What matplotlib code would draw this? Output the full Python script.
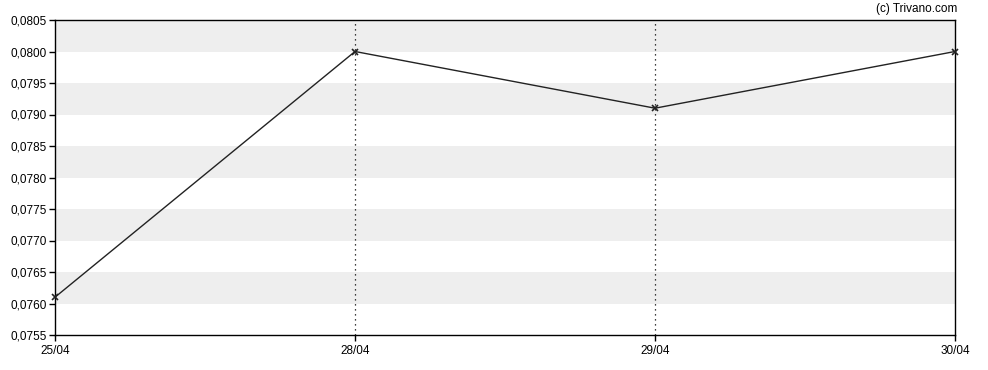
import matplotlib
matplotlib.use("Agg")
import matplotlib.pyplot as plt
from matplotlib.ticker import FuncFormatter

# values
dates  = ["25/04", "28/04", "29/04", "30/04"]
prices = [0.0761, 0.0800, 0.0791, 0.0800]

y_min, y_max, y_step = 0.0755, 0.0805, 0.0005

plt.rcParams["font.family"] = ["Liberation Sans", "DejaVu Sans"]

fig = plt.figure(figsize=(9.88, 3.70), dpi=100)
ax = fig.add_axes([55 / 988, 1 - 335 / 370, 900 / 988, 315 / 370])

x = list(range(len(dates)))

# alternating grey bands, every other 0.0005 step starting from 0.0760
lo = 0.0760
while lo < y_max - 1e-9:
    ax.axhspan(lo, lo + y_step, color="#eeeeee", lw=0, zorder=0)
    lo += 2 * y_step

# dotted vertical lines at the inner dates
for xi in x[1:-1]:
    ax.axvline(xi, color="black", ls=(0, (1, 3)), lw=0.9, zorder=1)

ax.plot(x, prices, color="#222222", lw=1.0, marker="x", ms=4, mew=1.2,
        zorder=3, clip_on=False)

ax.set_xlim(x[0], x[-1])
ax.set_ylim(y_min, y_max)
ax.set_xticks(x)
ax.set_xticklabels(dates)
yt = [y_min + i * y_step for i in range(int(round((y_max - y_min) / y_step)) + 1)]
ax.set_yticks(yt)
ax.yaxis.set_major_formatter(FuncFormatter(lambda v, p: f"{v:.4f}".replace(".", ",")))
ax.tick_params(axis="both", labelsize=8.5, length=4, width=1, color="black", pad=2)
ax.tick_params(axis="x", pad=3)

for s in ax.spines.values():
    s.set_color("black")
    s.set_linewidth(1)

fig.text(957 / 988, 1 - 9 / 370, "(c) Trivano.com", ha="right", va="center", fontsize=8.5)

fig.savefig("out.png", dpi=100)
